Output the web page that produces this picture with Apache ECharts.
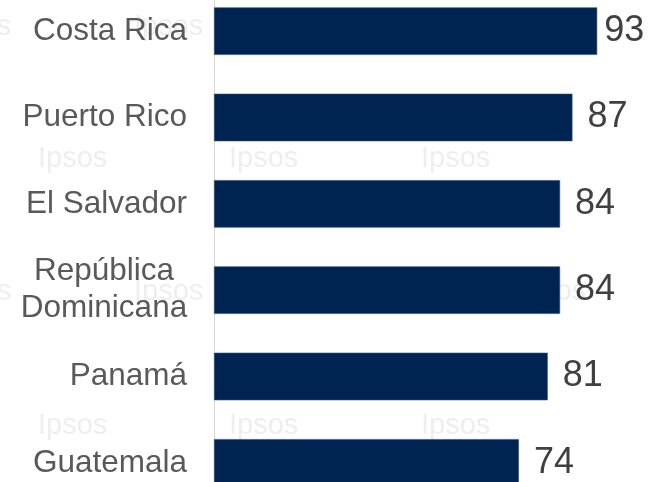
<!DOCTYPE html>
<html>
<head>
<meta charset="utf-8">
<script src="https://cdn.jsdelivr.net/npm/echarts@6/dist/echarts.min.js"></script>
<style>
html,body{margin:0;padding:0;background:#fff;}
#chart{width:654px;height:482px;}
</style>
</head>
<body>
<div id="chart"></div>
<script>
const categories = ['Costa Rica', 'Puerto Rico', 'El Salvador', 'República\nDominicana', 'Panamá', 'Guatemala'];
const values = [93, 87, 84, 84, 81, 74];
const watermarkText = 'Ipsos';

const FONT = 'Arial, "Liberation Sans", Helvetica, sans-serif';

// decorative watermark grid (staggered rows)
const wmRowsA = [26, 291];
const wmColsA = [-58, 134, 325, 517];
const wmRowsB = [158, 425];
const wmColsB = [38, 229, 421];
const graphics = [];
function addWm(rows, cols) {
  rows.forEach(y => cols.forEach(x => {
    graphics.push({
      type: 'text', left: x, top: y - 14, silent: true, z: -1,
      style: { text: watermarkText, fill: '#eeeeee', font: '29px ' + FONT }
    });
  }));
}
addWm(wmRowsA, wmColsA);
addWm(wmRowsB, wmColsB);

const chart = echarts.init(document.getElementById('chart'), null, { renderer: 'canvas' });
chart.setOption({
  animation: false,
  backgroundColor: '#ffffff',
  graphic: graphics,
  grid: { left: 214, right: 28, top: -12, height: 518, containLabel: false, outerBoundsMode: 'none' },
  xAxis: {
    type: 'value', min: 0, max: 100,
    show: false,
    splitLine: { show: false }
  },
  yAxis: {
    type: 'category',
    inverse: true,
    data: categories,
    axisLine: { show: true, lineStyle: { color: '#d9d9d9', width: 1 } },
    axisTick: { show: false },
    splitLine: { show: false },
    axisLabel: {
      margin: 27,
      fontSize: 31.5,
      fontFamily: FONT,
      color: '#595959',
      formatter: function (v) {
        if (v.indexOf('\n') >= 0) {
          return v.split('\n').map(s => '{c|' + s + '}').join('\n');
        }
        return v;
      },
      rich: {
        c: { width: 166, align: 'center', fontSize: 31.5, fontFamily: FONT, color: '#595959', lineHeight: 37 }
      }
    }
  },
  series: [{
    type: 'bar',
    barWidth: '55%',
    z: 2,
    data: values.map((v, i) => i === 0 ? { value: v, label: { distance: 7 } } : v),
    itemStyle: { color: '#002452', borderColor: '#2d4a73', borderWidth: 0.6 },
    label: {
      show: true,
      position: 'right',
      distance: 15,
      fontSize: 36,
      fontFamily: FONT,
      color: '#404040'
    }
  }]
});
</script>
</body>
</html>
